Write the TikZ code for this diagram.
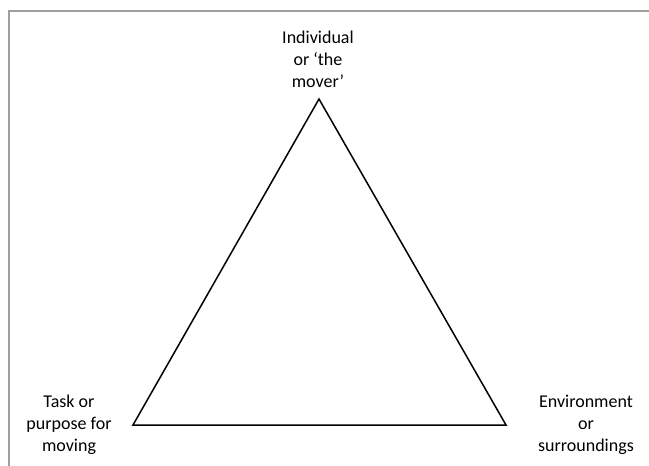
\documentclass[tikz,border=0pt]{standalone}
\usepackage{fontspec}
\setmainfont{Carlito}
\usetikzlibrary{positioning}

\begin{document}
\begin{tikzpicture}[
  x=1pt, y=-1pt,
  label/.style={align=center, font=\fontsize{18}{22}\selectfont, inner sep=0pt},
  side/.style={line width=1.5pt, line join=miter},
  frame/.style={draw=gray!75, line width=2pt}
]
\useasboundingbox (0,0) rectangle (649,466);

% frame (top and left edge only)
\draw[frame] (9,466) -- (9,11) -- (649,11);

% corners of the triangle
\coordinate (mover) at (319,99);
\coordinate (task) at (133,425);
\coordinate (env) at (506,425);

\node[label] (individual) at (318,59) {Individual\\or `the\\mover'};
\node[label] (purpose) at (69,425) {Task or\\purpose for\\moving};
\node[label] (surround) at (586,425) {Environment\\or\\surroundings};

\draw[side] (mover) -- (task) -- (env) -- cycle;

\end{tikzpicture}
\end{document}
